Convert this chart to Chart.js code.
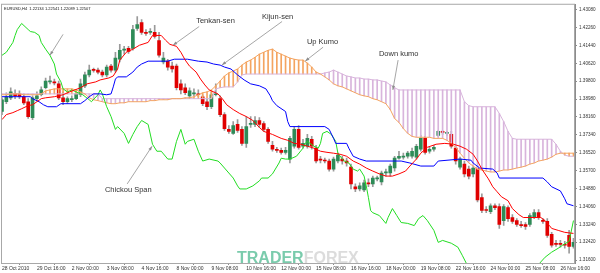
<!DOCTYPE html>
<html>
<head>
<meta charset="utf-8">
<script src="https://cdn.jsdelivr.net/npm/chart.js@4.4.1/dist/chart.umd.min.js"></script>
<style>
  html, body { margin: 0; padding: 0; background: #fff; }
</style>
</head>
<body>
<canvas id="ichimoku" width="600" height="273"></canvas>
<script>
// EURUSD H4, one entry per bar (bar index 0 = 28 Oct 2010 00:00)
const opens = [
  1.3841,1.3886,1.3904,1.3922,1.3922,1.3909,1.3886,1.3813,1.3900,1.3918,
  1.3950,1.3977,1.3977,1.3968,1.3904,1.3886,1.3895,1.3900,1.3918,1.3959,
  1.4009,1.4031,1.4031,1.4022,1.4009,1.4049,1.4031,1.4081,1.4122,1.4131,
  1.4131,1.4222,1.4249,1.4204,1.4204,1.4204,1.4167,1.4068,1.4072,1.4049,
  1.4049,1.3968,1.3950,1.3913,1.3922,1.3922,1.3909,1.3886,1.3863,1.3918,
  1.3900,1.3827,1.3759,1.3741,1.3782,1.3759,1.3695,1.3782,1.3782,1.3800,
  1.3786,1.3759,1.3686,1.3668,1.3663,1.3654,1.3623,1.3682,1.3759,1.3682,
  1.3682,1.3714,1.3673,1.3623,1.3618,1.3614,1.3577,1.3614,1.3623,1.3614,
  1.3586,1.3496,1.3486,1.3482,1.3514,1.3509,1.3532,1.3518,1.3559,1.3559,
  1.3582,1.3627,1.3632,1.3636,1.3636,1.3632,1.3668,1.3718,1.3659,1.3668,
  1.3732,1.3750,1.3741,1.3736,1.3673,1.3586,1.3600,1.3577,1.3555,1.3582,
  1.3446,1.3391,1.3382,1.3409,1.3405,1.3341,1.3400,1.3355,1.3341,1.3323,
  1.3323,1.3323,1.3359,1.3378,1.3341,1.3337,1.3278,1.3237,1.3237,1.3232,
  1.3273,1.3223
];
const highs = [
  1.3904,1.3927,1.3950,1.3940,1.3936,1.3922,1.3900,1.3913,1.3931,1.3954,
  1.3995,1.4004,1.3990,1.3981,1.3931,1.3909,1.3913,1.3931,1.3990,1.4022,
  1.4054,1.4040,1.4040,1.4031,1.4054,1.4058,1.4113,1.4149,1.4140,1.4140,
  1.4236,1.4276,1.4263,1.4217,1.4222,1.4236,1.4204,1.4113,1.4081,1.4068,
  1.4059,1.3986,1.3968,1.3950,1.3945,1.3940,1.3918,1.3900,1.3931,1.3968,
  1.3913,1.3836,1.3777,1.3795,1.3804,1.3772,1.3818,1.3818,1.3818,1.3813,
  1.3795,1.3768,1.3704,1.3677,1.3673,1.3677,1.3727,1.3772,1.3777,1.3714,
  1.3736,1.3727,1.3686,1.3636,1.3627,1.3623,1.3632,1.3650,1.3636,1.3627,
  1.3600,1.3509,1.3514,1.3527,1.3532,1.3545,1.3545,1.3568,1.3577,1.3600,
  1.3636,1.3659,1.3650,1.3659,1.3673,1.3691,1.3732,1.3727,1.3677,1.3686,
  1.3754,1.3754,1.3750,1.3750,1.3682,1.3632,1.3614,1.3591,1.3591,1.3591,
  1.3464,1.3405,1.3418,1.3418,1.3418,1.3414,1.3409,1.3368,1.3350,1.3337,
  1.3332,1.3373,1.3391,1.3391,1.3350,1.3350,1.3287,1.3250,1.3250,1.3246,
  1.3296,1.3259
];
const lows = [
  1.3827,1.3877,1.3895,1.3900,1.3900,1.3872,1.3809,1.3804,1.3890,1.3913,
  1.3945,1.3968,1.3963,1.3895,1.3872,1.3877,1.3886,1.3895,1.3909,1.3950,
  1.4000,1.4022,1.4013,1.4000,1.4000,1.4022,1.4022,1.4068,1.4104,1.4108,
  1.4122,1.4213,1.4195,1.4190,1.4195,1.4177,1.4090,1.4059,1.4031,1.4022,
  1.3940,1.3922,1.3918,1.3904,1.3913,1.3909,1.3868,1.3850,1.3854,1.3913,
  1.3818,1.3754,1.3741,1.3736,1.3745,1.3686,1.3677,1.3768,1.3772,1.3768,
  1.3750,1.3695,1.3659,1.3654,1.3645,1.3645,1.3605,1.3673,1.3668,1.3673,
  1.3673,1.3668,1.3605,1.3605,1.3605,1.3568,1.3568,1.3605,1.3600,1.3591,
  1.3486,1.3473,1.3477,1.3473,1.3496,1.3496,1.3523,1.3505,1.3545,1.3545,
  1.3568,1.3623,1.3623,1.3627,1.3627,1.3623,1.3659,1.3645,1.3650,1.3659,
  1.3727,1.3736,1.3732,1.3673,1.3600,1.3577,1.3541,1.3532,1.3541,1.3427,
  1.3377,1.3377,1.3373,1.3391,1.3305,1.3319,1.3337,1.3328,1.3314,1.3309,
  1.3300,1.3314,1.3350,1.3346,1.3328,1.3264,1.3219,1.3223,1.3219,1.3214,
  1.3191,1.3214
];
const closes = [
  1.3895,1.3909,1.3931,1.3913,1.3909,1.3881,1.3818,1.3904,1.3913,1.3940,
  1.3981,1.3981,1.3972,1.3904,1.3886,1.3900,1.3900,1.3922,1.3968,1.4009,
  1.4031,1.4030,1.4022,1.4009,1.4045,1.4031,1.4086,1.4122,1.4127,1.4117,
  1.4217,1.4240,1.4204,1.4199,1.4208,1.4186,1.4099,1.4086,1.4045,1.4036,
  1.3950,1.3940,1.3927,1.3936,1.3927,1.3918,1.3877,1.3863,1.3918,1.3922,
  1.3827,1.3763,1.3750,1.3777,1.3754,1.3695,1.3772,1.3786,1.3800,1.3782,
  1.3759,1.3704,1.3668,1.3663,1.3654,1.3663,1.3718,1.3759,1.3677,1.3695,
  1.3718,1.3682,1.3614,1.3618,1.3614,1.3577,1.3623,1.3641,1.3614,1.3605,
  1.3509,1.3486,1.3500,1.3514,1.3509,1.3536,1.3536,1.3559,1.3564,1.3591,
  1.3627,1.3636,1.3636,1.3650,1.3659,1.3682,1.3718,1.3654,1.3668,1.3677,
  1.3750,1.3745,1.3745,1.3682,1.3614,1.3623,1.3555,1.3545,1.3582,1.3436,
  1.3387,1.3387,1.3409,1.3400,1.3323,1.3405,1.3350,1.3337,1.3323,1.3318,
  1.3314,1.3364,1.3378,1.3355,1.3337,1.3273,1.3228,1.3232,1.3232,1.3228,
  1.3223,1.3241
];

// Senkou Span A / B, per bar
const spanA = [
  1.3918,1.3918,1.3922,1.3922,1.3922,1.3918,1.3918,1.3918,1.3918,1.3922,
  1.3936,1.3940,1.3945,1.3945,1.3945,1.3945,1.3945,1.3940,1.3931,1.3922,
  1.3904,1.3895,1.3891,1.3886,1.3881,1.3877,1.3877,1.3881,1.3881,1.3886,
  1.3886,1.3886,1.3886,1.3886,1.3891,1.3891,1.3895,1.3895,1.3895,1.3900,
  1.3900,1.3900,1.3904,1.3904,1.3909,1.3918,1.3927,1.3931,1.3940,1.3959,
  1.3981,1.4004,1.4018,1.4027,1.4036,1.4054,1.4068,1.4077,1.4090,1.4104,
  1.4113,1.4122,1.4127,1.4113,1.4104,1.4095,1.4086,1.4081,1.4077,1.4077,
  1.4063,1.4045,1.4022,1.4013,1.4000,1.3986,1.3968,1.3959,1.3954,1.3945,
  1.3936,1.3927,1.3918,1.3913,1.3909,1.3900,1.3895,1.3886,1.3877,1.3850,
  1.3809,1.3791,1.3763,1.3741,1.3727,1.3723,1.3723,1.3723,1.3723,1.3718,
  1.3718,1.3718,1.3709,1.3695,1.3677,1.3650,1.3627,1.3605,1.3591,1.3577,
  1.3573,1.3568,1.3564,1.3564,1.3568,1.3573,1.3573,1.3577,1.3582,1.3586,
  1.3591,1.3600,1.3605,1.3614,1.3618,1.3623,1.3632,1.3645,1.3650,1.3650,
  1.3650,1.3650
];
const spanB = [
  1.3922,1.3922,1.3922,1.3922,1.3922,1.3922,1.3922,1.3922,1.3922,1.3922,
  1.3922,1.3922,1.3922,1.3922,1.3922,1.3922,1.3922,1.3922,1.3922,1.3922,
  1.3922,1.3922,1.3922,1.3900,1.3900,1.3900,1.3900,1.3900,1.3900,1.3900,
  1.3900,1.3900,1.3900,1.3900,1.3900,1.3900,1.3900,1.3900,1.3900,1.3900,
  1.3900,1.3900,1.3900,1.3900,1.3900,1.3900,1.3900,1.3900,1.3900,1.3945,
  1.3950,1.3954,1.3954,1.3954,1.3977,1.4009,1.4013,1.4013,1.4013,1.4013,
  1.4013,1.4013,1.4013,1.4013,1.4013,1.4013,1.4013,1.4013,1.4013,1.4013,
  1.4013,1.4013,1.4013,1.4013,1.4018,1.4022,1.4031,1.4022,1.4013,1.4004,
  1.4000,1.3995,1.3995,1.3990,1.3990,1.3986,1.3986,1.3981,1.3977,1.3963,
  1.3950,1.3940,1.3940,1.3940,1.3940,1.3940,1.3940,1.3940,1.3940,1.3940,
  1.3940,1.3940,1.3940,1.3940,1.3940,1.3940,1.3886,1.3868,1.3863,1.3863,
  1.3863,1.3863,1.3863,1.3863,1.3832,1.3795,1.3750,1.3718,1.3714,1.3714,
  1.3714,1.3714,1.3714,1.3714,1.3714,1.3714,1.3714,1.3691,1.3659,1.3641,
  1.3636,1.3636
];

// Tenkan, Kijun and Chikou read as [bar, price] points
const tenkan = [
  [0,1.3804],[1,1.3827],[2.5,1.3836],[3.5,1.3845],[4.5,1.3854],[6,1.3868],[7,1.3872],[8,1.3886],
  [9,1.3900],[10,1.3904],[12,1.3909],[14,1.3918],[15.5,1.3931],[18,1.3950],[19.5,1.3968],[21.5,1.3977],
  [22.5,1.3986],[24.5,1.3995],[25.5,1.4004],[26.5,1.4036],[27,1.4077],[28.5,1.4113],[30,1.4127],
  [31.5,1.4145],[33.5,1.4158],[34.5,1.4190],[36.5,1.4190],[37.5,1.4168],[38.5,1.4149],[40,1.4140],
  [41,1.4113],[42,1.4077],[43,1.4049],[44.5,1.4022],[45.5,1.3990],[46.5,1.3963],[47.5,1.3940],
  [49.5,1.3922],[50.5,1.3900],[51.5,1.3872],[53,1.3850],[54.5,1.3832],[56,1.3818],[57.5,1.3800],
  [59,1.3768],[60,1.3750],[62,1.3736],[64,1.3718],[65.5,1.3709],[67,1.3695],[68.5,1.3691],[70,1.3682],
  [71.5,1.3673],[73,1.3659],[74.5,1.3654],[76,1.3650],[77.5,1.3645],[79,1.3636],[80.5,1.3614],
  [82,1.3600],[83.5,1.3582],[85,1.3568],[86.5,1.3555],[88,1.3545],[89.5,1.3545],[91,1.3555],
  [92.5,1.3568],[93.5,1.3591],[95,1.3623],[96,1.3650],[97.5,1.3677],[99.5,1.3691],[101.5,1.3695],
  [103.5,1.3691],[105,1.3682],[106.5,1.3668],[108,1.3645],[109,1.3614],[110,1.3577],[111.5,1.3532],
  [112.5,1.3496],[113.5,1.3473],[114.5,1.3450],[116,1.3432],[117,1.3396],[118.5,1.3368],[119.5,1.3355],
  [121,1.3355],[123.5,1.3355],[124.5,1.3341],[125.5,1.3318],[126,1.3305],[127.5,1.3296],[129,1.3287],
  [131,1.3282]
];
const kijun = [
  [0,1.3909],[6.5,1.3909],[7,1.3900],[8.5,1.3886],[9.5,1.3872],[10.5,1.3863],[12.5,1.3863],[13.5,1.3877],
  [18,1.3877],[19,1.3891],[20,1.3909],[21,1.3922],[22.5,1.3922],[24,1.3918],[25,1.3922],[25.5,1.3954],
  [26,1.3990],[26.5,1.4000],[28.5,1.4000],[30,1.4022],[31,1.4045],[32,1.4059],[33.5,1.4072],[38,1.4072],
  [39.5,1.4081],[42.5,1.4081],[45,1.4072],[47,1.4068],[48.5,1.4059],[50,1.4054],[51,1.4045],[52.5,1.4036],
  [54,1.4009],[55.5,1.3986],[57,1.3968],[59,1.3959],[60.5,1.3945],[61.5,1.3913],[62,1.3891],[63,1.3868],
  [65,1.3841],[65.5,1.3795],[66,1.3772],[74,1.3772],[75,1.3759],[76,1.3718],[76.5,1.3695],[79,1.3695],
  [79.5,1.3673],[80.5,1.3636],[82,1.3623],[83.5,1.3614],[91.5,1.3614],[93.5,1.3605],[96,1.3591],
  [99,1.3591],[100,1.3614],[105,1.3623],[107.5,1.3618],[108,1.3605],[109.5,1.3582],[112.5,1.3577],
  [113.5,1.3559],[114,1.3536],[124,1.3536],[125,1.3518],[126,1.3496],[128,1.3477],[129,1.3441],
  [129.5,1.3418],[131,1.3409]
];
const chikou = [
  [0,1.4099],[1,1.4113],[2.5,1.4158],[3,1.4190],[3.5,1.4217],[4.5,1.4245],[6,1.4217],[6.5,1.4208],
  [7.5,1.4204],[8.5,1.4190],[9,1.4158],[10,1.4127],[11,1.4099],[12,1.4059],[12.5,1.4013],[13.5,1.3977],
  [14,1.3945],[15,1.3931],[16,1.3940],[17,1.3931],[18.5,1.3918],[20,1.3895],[20.5,1.3886],[22,1.3918],
  [22.5,1.3940],[23,1.3922],[24,1.3863],[25,1.3818],[26,1.3759],[26.5,1.3772],[28,1.3741],[29,1.3695],
  [30,1.3736],[31,1.3772],[32,1.3800],[33.5,1.3782],[34.5,1.3691],[35.5,1.3659],[36.5,1.3659],
  [38,1.3623],[39,1.3623],[40,1.3704],[41,1.3759],[42,1.3691],[42.5,1.3704],[44,1.3714],[45,1.3659],
  [46,1.3614],[47.5,1.3623],[49.5,1.3614],[50,1.3605],[51,1.3582],[53,1.3536],[54,1.3500],[54.5,1.3486],
  [56,1.3486],[57.5,1.3500],[59,1.3523],[59.5,1.3536],[61,1.3536],[62,1.3555],[63.5,1.3605],[64,1.3627],
  [65,1.3623],[66,1.3623],[67.5,1.3636],[69,1.3673],[69.5,1.3695],[70,1.3704],[71.5,1.3682],[72.5,1.3673],
  [73,1.3695],[73.5,1.3741],[74.5,1.3750],[75.5,1.3736],[76.5,1.3704],[77,1.3650],[78,1.3623],
  [78.5,1.3614],[79.5,1.3605],[80.5,1.3577],[81.5,1.3568],[82,1.3577],[83,1.3545],[83.5,1.3500],
  [84,1.3446],[84.5,1.3387],[85,1.3377],[86.5,1.3364],[88,1.3328],[88.5,1.3355],[89.5,1.3396],
  [90.5,1.3364],[91.5,1.3332],[93,1.3328],[94.5,1.3318],[95.5,1.3350],[96.5,1.3364],[97.5,1.3341],
  [99,1.3296],[100,1.3241],[101,1.3250],[103,1.3237],[104.5,1.3219],[105.5,1.3182],[107,1.3123],
  [114,1.3023],[121,1.3091],[123.5,1.3151],[124.5,1.3173],[126,1.3196],[127.5,1.3214],[128.5,1.3228],
  [130,1.3246],[131,1.3341]
];

// axis ticks
const xTickBars = [0, 8, 16, 24, 32, 40, 48, 56, 64, 72, 80, 88, 96, 104, 112, 120, 128];
const xLabels = ['28 Oct 2010', '29 Oct 16:00', '2 Nov 00:00', '3 Nov 08:00', '4 Nov 16:00', '8 Nov 00:00',
  '9 Nov 08:00', '10 Nov 16:00', '12 Nov 00:00', '15 Nov 08:00', '16 Nov 16:00', '18 Nov 00:00',
  '19 Nov 08:00', '22 Nov 16:00', '24 Nov 00:00', '25 Nov 08:00', '26 Nov 16:00'];
const yTicks = [1.31600, 1.32420, 1.33240, 1.34060, 1.34880, 1.35700, 1.36520, 1.37340,
  1.38160, 1.38980, 1.39800, 1.40620, 1.41440, 1.42260, 1.43080];
const header = 'EURUSD,H4  1.22134 1.22541 1.22089 1.22507';

// callouts: label position, arrow start, arrow tip (bar, price)
const notes = [
  { text: '', at: null, from: [14, 1.4195], to: [11, 1.4099] },
  { text: 'Tenkan-sen', at: [44.5, 1.4258], from: [45.2, 1.4231], to: [39.2, 1.4145] },
  { text: 'Kijun-sen', at: [59.6, 1.4276], from: [64.2, 1.4254], to: [50.4, 1.4054] },
  { text: 'Up Kumo', at: [69.9, 1.4158], from: [73.6, 1.4136], to: [69.5, 1.4072] },
  { text: 'Down kumo', at: [86.4, 1.4104], from: [90.8, 1.4077], to: [89.6, 1.3940] },
  { text: 'Chickou Span', at: [23.6, 1.3482], from: [28.7, 1.3509], to: [34.4, 1.3682] }
];

const FONT = '"Liberation Sans", Arial, sans-serif';
Chart.defaults.font.family = FONT;

function arrow(ctx, x1, y1, x2, y2) {
  ctx.beginPath();
  ctx.moveTo(x1, y1);
  ctx.lineTo(x2, y2);
  ctx.stroke();
  const a = Math.atan2(y2 - y1, x2 - x1), h = 4.5;
  ctx.beginPath();
  ctx.moveTo(x2, y2);
  ctx.lineTo(x2 - h * Math.cos(a - 0.35), y2 - h * Math.sin(a - 0.35));
  ctx.lineTo(x2 - h * Math.cos(a + 0.35), y2 - h * Math.sin(a + 0.35));
  ctx.closePath();
  ctx.fill();
}

const overlay = {
  id: 'overlay',
  afterDraw(chart) {
    const { ctx, chartArea: area, scales: { x, y } } = chart;
    ctx.save();
    // chart frame
    ctx.strokeStyle = '#a8a8a8';
    ctx.lineWidth = 1;
    ctx.strokeRect(area.left - 0.5, area.top - 0.5, area.right - area.left, area.bottom - area.top + 1);

    ctx.fillStyle = '#111';
    ctx.font = '4px ' + FONT;
    ctx.textBaseline = 'middle';
    ctx.fillText(header, area.left + 2, area.top + 4);

    // callouts
    ctx.strokeStyle = '#8f8f8f';
    ctx.fillStyle = '#8f8f8f';
    ctx.lineWidth = 0.8;
    notes.forEach(n => {
      arrow(ctx, x.getPixelForValue(n.from[0]), y.getPixelForValue(n.from[1]),
        x.getPixelForValue(n.to[0]), y.getPixelForValue(n.to[1]));
    });
    ctx.fillStyle = '#333';
    ctx.font = '7.5px ' + FONT;
    notes.forEach(n => {
      if (n.at) ctx.fillText(n.text, x.getPixelForValue(n.at[0]), y.getPixelForValue(n.at[1]));
    });

    // watermark
    ctx.font = 'bold 16px ' + FONT;
    ctx.textBaseline = 'alphabetic';
    ctx.globalAlpha = 0.85;
    ctx.fillStyle = '#63c29e';
    ctx.fillText('TRADER', 237, 263);
    const w = ctx.measureText('TRADER').width;
    ctx.fillStyle = '#d6d6d6';
    ctx.fillText('FOREX', 237 + w, 263);
    ctx.restore();
  }
};

const pts = arr => arr.map(([b, p]) => ({ x: b, y: p }));
const lineSet = (label, data, color, order) => ({
  type: 'line', label, data, borderColor: color, borderWidth: 1,
  pointRadius: 0, tension: 0, order
});

const ctx = document.getElementById('ichimoku').getContext('2d');
new Chart(ctx, {
  type: 'bar',
  data: {
    datasets: [
      lineSet('Tenkan-sen', pts(tenkan), '#ff0000', 1),
      lineSet('Kijun-sen', pts(kijun), '#0000ff', 2),
      lineSet('Chikou Span', pts(chikou), '#22dd22', 3),
      lineSet('Senkou Span A', spanA.map((v, i) => ({ x: i, y: v })), '#f4a460', 4),
      lineSet('Senkou Span B', spanB.map((v, i) => ({ x: i, y: v })), '#d8b4dc', 5),
      {
        label: 'Kumo',
        data: spanA.map((v, i) => ({ x: i, y: [v, spanB[i]] })),
        backgroundColor: spanA.map((v, i) => v >= spanB[i] ? '#f4a460' : '#d8b4dc'),
        barThickness: 1, grouped: false, order: 6
      },
      {
        label: 'Body',
        data: opens.map((o, i) => ({ x: i, y: [o, closes[i]] })),
        backgroundColor: opens.map((o, i) => closes[i] >= o ? '#2e8b57' : '#e00000'),
        barThickness: 3, minBarLength: 1, grouped: false, order: 7
      },
      {
        label: 'Wick',
        data: lows.map((l, i) => ({ x: i, y: [l, highs[i]] })),
        backgroundColor: '#9a9a9a',
        barThickness: 1, grouped: false, order: 8
      }
    ]
  },
  options: {
    responsive: false,
    animation: false,
    layout: { padding: { top: 2, left: 2, right: 0, bottom: 0 } },
    plugins: { legend: { display: false }, tooltip: { enabled: false } },
    scales: {
      x: {
        type: 'linear', min: 0, max: 131.35, offset: false,
        afterBuildTicks: axis => { axis.ticks = xTickBars.map(v => ({ value: v })); },
        afterFit: axis => { axis.height = 10; },
        grid: { display: true, drawOnChartArea: false, drawTicks: true, tickLength: 2, color: '#8c8c8c' },
        border: { display: true, color: '#8c8c8c' },
        ticks: {
          autoSkip: false, maxRotation: 0, minRotation: 0, align: 'start', padding: 1,
          color: '#333', font: { size: 5 },
          callback: (v, i) => xLabels[i]
        }
      },
      y: {
        position: 'right', min: 1.31464, max: 1.43307,
        afterBuildTicks: axis => { axis.ticks = yTicks.map(v => ({ value: v })); },
        afterFit: axis => { axis.width = 25; },
        grid: { display: true, drawOnChartArea: false, drawTicks: true, tickLength: 2, color: '#8c8c8c' },
        border: { display: true, color: '#8c8c8c' },
        ticks: { padding: 2, color: '#333', font: { size: 4.6 }, callback: v => v.toFixed(5) }
      }
    }
  },
  plugins: [overlay]
});
</script>
</body>
</html>
